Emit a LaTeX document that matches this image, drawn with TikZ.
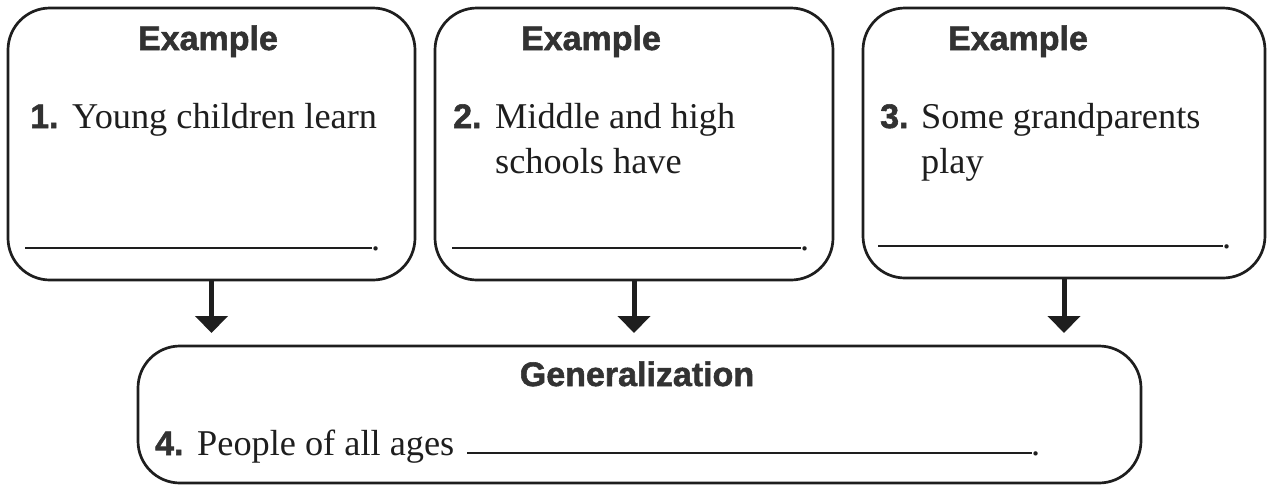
\documentclass[tikz,border=0pt]{standalone}
\usepackage{fontspec}
\setmainfont{Liberation Serif}
\setsansfont{Liberation Sans}
\newfontfamily\headfont{Liberation Sans}[BoldFeatures={FakeBold=1.6}]
\usetikzlibrary{arrows.meta}
\definecolor{ink}{RGB}{30,30,30}
\definecolor{headink}{RGB}{50,50,50}
\begin{document}
\begin{tikzpicture}[x=1pt,y=-1pt,
  box/.style={draw=ink,line width=2.7pt,rounded corners=42pt,inner sep=0pt,outer sep=0pt},
  head/.style={font=\headfont\bfseries\fontsize{34}{40}\selectfont,text=headink,inner sep=0pt,anchor=base},
  num/.style={font=\headfont\bfseries\fontsize{34}{40}\selectfont,text=headink,inner sep=0pt,anchor=base west},
  txt/.style={font=\fontsize{36.3}{45}\selectfont,text=ink,inner sep=0pt,anchor=base west},
  blank/.style={draw=ink,line width=2.2pt},
  arr/.style={draw=ink,line width=5pt,-{Triangle[width=32pt,length=17pt]},shorten >=13pt}]
\useasboundingbox (0,0) rectangle (1270,485);
% boxes
\node[box,minimum width=407pt,minimum height=272pt] (b1) at (211.5,144) {};
\node[box,minimum width=398pt,minimum height=272pt] (b2) at (634,144) {};
\node[box,minimum width=402pt,minimum height=270pt] (b3) at (1064,143) {};
\node[box,minimum width=1003pt,minimum height=137pt] (gen) at (639.5,414.5) {};
% headings
\node[head] (h1) at (208,50) {Example};
\node[head] (h2) at (591,50) {Example};
\node[head] (h3) at (1018,50) {Example};
\node[head] (h4) at (637,386) {Generalization};
% box 1
\node[num] (n1) at (30,128) {1.};
\node[txt] (t1) at (72,128) {Young children learn};
\draw[blank] (25,248) -- (372,248);
\node[txt] (p1) at (371,250) {.};
% box 2
\node[num] (n2) at (453,128) {2.};
\node[txt] (t2a) at (495,128) {Middle and high};
\node[txt] (t2b) at (495,173) {schools have};
\draw[blank] (452,248) -- (801,248);
\node[txt] (p2) at (800,250) {.};
% box 3
\node[num] (n3) at (880,128) {3.};
\node[txt] (t3a) at (921,128) {Some grandparents};
\node[txt] (t3b) at (921,173) {play};
\draw[blank] (878,246) -- (1223,246);
\node[txt] (p3) at (1222,248) {.};
% generalization
\node[num] (n4) at (155,455) {4.};
\node[txt] (t4) at (197,455) {People of all ages};
\draw[blank] (467,453) -- (1032,453);
\node[txt] (p4) at (1031,455) {.};
% arrows
\draw[arr] (b1.south) -- (b1.south |- gen.north);
\draw[arr] (b2.south) -- (b2.south |- gen.north);
\draw[arr] (b3.south) -- (b3.south |- gen.north);
\end{tikzpicture}
\end{document}
